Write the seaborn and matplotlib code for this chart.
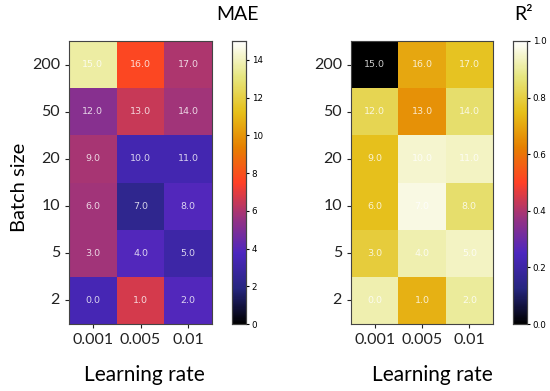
import matplotlib
matplotlib.use("Agg")
import matplotlib.pyplot as plt
import numpy as np
import pandas as pd
import seaborn as sns

# Dane (wiersze od góry: 200 -> 2)
batch_sizes = ["200", "50", "20", "10", "5", "2"]
learning_rates = ["0.001", "0.005", "0.01"]

mae_values = [
    [13.6, 7.7, 6.0],
    [5.2, 6.5, 5.8],
    [5.9, 3.3, 3.3],
    [5.8, 2.3, 3.9],
    [5.8, 3.9, 3.0],
    [3.4, 6.7, 3.9],
]

r2_values = [
    [0.00, 0.70, 0.76],
    [0.82, 0.66, 0.85],
    [0.75, 0.95, 0.94],
    [0.75, 0.97, 0.85],
    [0.79, 0.92, 0.94],
    [0.92, 0.72, 0.90],
]

# numery komórek wypisane w środku (0 w lewym dolnym rogu)
cell_labels = [
    [15, 16, 17],
    [12, 13, 14],
    [9, 10, 11],
    [6, 7, 8],
    [3, 4, 5],
    [0, 1, 2],
]

plt.rcParams["font.family"] = ["Lato", "DejaVu Sans"]

W, H = 550, 391
fig = plt.figure(figsize=(W / 100, H / 100), dpi=100)


def px(x0, y0, x1, y1):
    return [x0 / W, 1 - y1 / H, (x1 - x0) / W, (y1 - y0) / H]


panels = [
    (mae_values, "MAE", 0, 15, np.arange(0, 15, 2), px(69, 41, 212, 324), px(232, 41, 246, 324), 144, 237),
    (r2_values, "R²", 0, 1, np.linspace(0, 1, 6), px(351, 41, 493, 324), px(513, 41, 527, 324), 432, 524),
]

annot = np.array(cell_labels, dtype=float)

for values, name, vmin, vmax, cticks, ax_pos, cb_pos, xlab_x, title_x in panels:
    ax = fig.add_axes(ax_pos)
    cax = fig.add_axes(cb_pos)
    df = pd.DataFrame(values, index=batch_sizes, columns=learning_rates)
    sns.heatmap(
        df,
        ax=ax,
        cbar_ax=cax,
        cmap="CMRmap",
        vmin=vmin,
        vmax=vmax,
        annot=annot,
        fmt=".1f",
        annot_kws={"fontsize": 6.8, "color": "white", "alpha": 0.8, "family": "DejaVu Sans"},
    )
    ax.tick_params(axis="both", labelsize=11.5, length=3, colors="#222222")
    ax.set_yticklabels(batch_sizes, rotation=0)
    ax.set_xticklabels(learning_rates, rotation=0)
    ax.set_xlabel("")
    ax.set_ylabel("")
    for side in ax.spines.values():
        side.set_visible(True)
        side.set_color("#444444")
        side.set_linewidth(0.8)

    cax.set_yticks(cticks)
    if vmax == 1:
        cax.set_yticklabels([f"{t:.1f}" for t in cticks])
    cax.tick_params(labelsize=6.3, length=2.5, pad=1.5)
    for lab in cax.get_yticklabels():
        lab.set_family("DejaVu Sans")
    for side in cax.spines.values():
        side.set_visible(True)
        side.set_color("#444444")
        side.set_linewidth(0.8)

    fig.text(xlab_x / W, 1 - 375 / H, "Learning rate", ha="center", va="center", fontsize=15)
    fig.text(title_x / W, 1 - 14 / H, name, ha="center", va="center", fontsize=14)

fig.text(20 / W, 1 - 187 / H, "Batch size", ha="center", va="center", rotation=90, fontsize=14.5)

fig.savefig("out.png", dpi=100)
